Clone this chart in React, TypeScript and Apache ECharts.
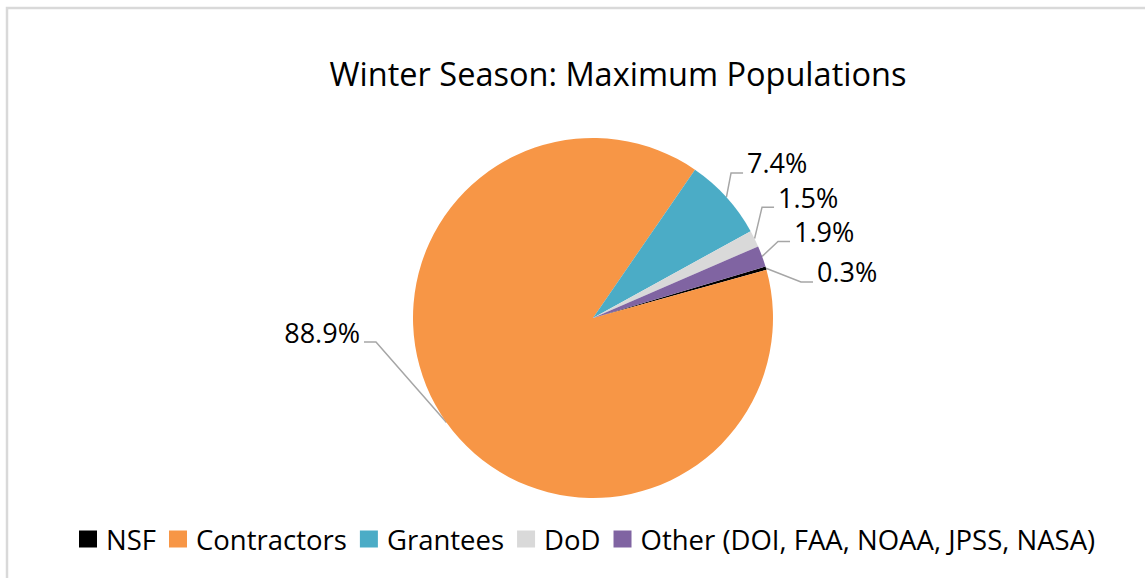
import React, { useEffect, useRef } from "react";
import * as echarts from "echarts";

const categories = ["NSF", "Contractors", "Grantees", "DoD", "Other (DOI, FAA, NOAA, JPSS, NASA)"];
const values = [0.3, 88.9, 7.4, 1.5, 1.9];
const colors = ["#000000", "#F79646", "#4BACC6", "#D9D9D9", "#8064A2"];
const titleText = "Winter Season: Maximum Populations";

// label nudges (style only) relative to the library's default outside-label layout
const labelNudge: [number, number][] = [
  [18.8, 9.3],
  [-57.2, -102.1],
  [-7.2, -20.8],
  [-7.5, -32.7],
  [0.1, -18.0],
];

export default function App() {
  const ref = useRef<HTMLDivElement>(null);
  useEffect(() => {
    document.body.style.margin = "0";
    const chart = echarts.init(ref.current!, null, { renderer: "svg" });
    const font = "'Open Sans', 'Noto Sans', sans-serif";
    const seg = 12;
    const gap = 4;
    const baseDrop = 10;
    chart.setOption({
      animation: false,
      backgroundColor: "#ffffff",
      title: {
        text: titleText,
        left: 613,
        top: 52,
        textAlign: "center",
        textStyle: { fontFamily: font, fontSize: 32.5, fontWeight: "normal", color: "#000" },
      },
      graphic: [
        {
          type: "rect",
          shape: { x: 7, y: 8, width: 1200, height: 700 },
          style: { fill: "none", stroke: "#d9d9d9", lineWidth: 2.5 },
          silent: true,
        },
      ],
      legend: {
        left: 74,
        top: 520,
        itemWidth: 18,
        itemHeight: 17,
        itemGap: 13,
        icon: "rect",
        textStyle: { fontFamily: font, fontSize: 27.5, color: "#000", padding: [0, 0, 0, 4] },
        data: categories,
      },
      series: [
        {
          type: "pie",
          center: [593, 318],
          radius: [0, 180],
          startAngle: 16.6,
          clockwise: true,
          avoidLabelOverlap: false,
          data: categories.map((c, i) => ({
            name: c,
            value: values[i],
            itemStyle: { color: colors[i] },
          })),
          label: {
            show: true,
            formatter: (p: any) => p.value.toFixed(1) + "%",
            fontFamily: font,
            fontSize: 27,
            lineHeight: 28,
            color: "#000",
          },
          labelLine: {
            show: true,
            length: 20,
            length2: 8,
            minTurnAngle: 0,
            lineStyle: { color: "#A6A6A6", width: 1.5 },
          },
          labelLayout: (params: any) => {
            const r = params.labelRect;
            const n = labelNudge[params.dataIndex] || [0, 0];
            const pts = params.labelLinePoints;
            const anchor = pts ? pts[0] : [r.x, r.y];
            const isLeft = pts ? pts[2][0] < pts[0][0] : false;
            const x = (isLeft ? r.x + r.width : r.x) + n[0];
            const y = r.y + r.height / 2 + n[1];
            const ly = y + baseDrop;
            const end = isLeft ? x + gap : x - gap;
            const elbow = isLeft ? end + seg : end - seg;
            return {
              x,
              y,
              align: isLeft ? "right" : "left",
              verticalAlign: "middle",
              labelLinePoints: [
                [anchor[0], anchor[1]],
                [elbow, ly],
                [end, ly],
              ],
            };
          },
          itemStyle: { borderColor: "#ffffff", borderWidth: 0 },
        },
      ],
    });
    return () => chart.dispose();
  }, []);
  return <div ref={ref} style={{ width: 1145, height: 578 }} />;
}
